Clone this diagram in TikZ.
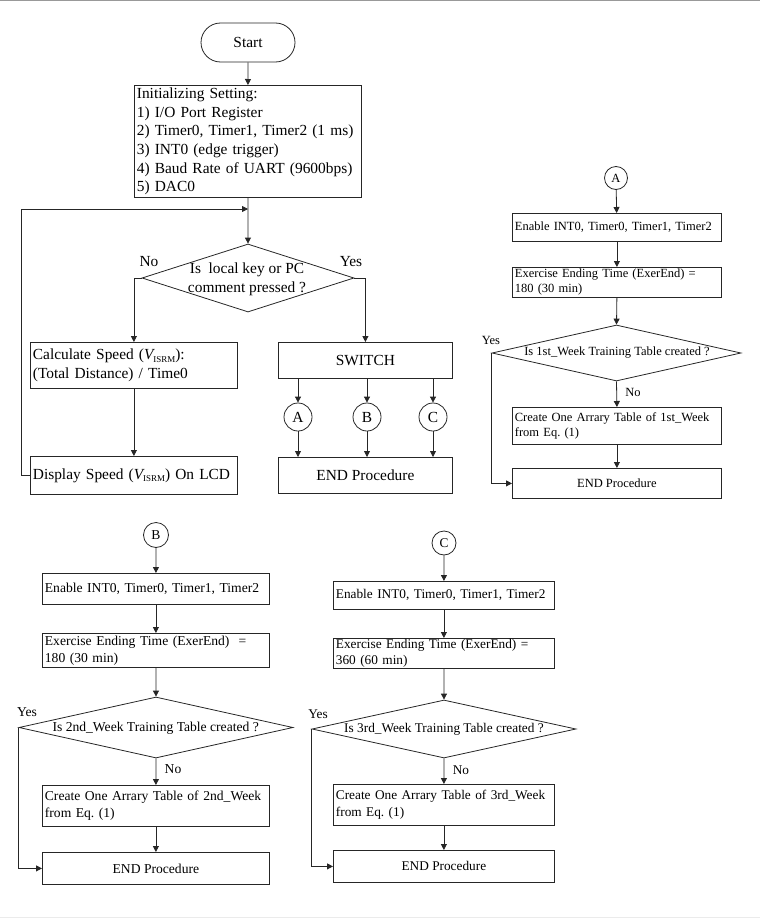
\documentclass[tikz,border=0pt]{standalone}
\usepackage{fontspec}
\usepackage{graphicx}
\setmainfont{Liberation Serif}
\usetikzlibrary{arrows.meta,shapes.geometric,shapes.misc}
\newcommand{\Visrm}{{\itshape V}\raisebox{-0.35ex}{\scalebox{0.58}{ISRM}}}
\frenchspacing
\begin{document}
\begin{tikzpicture}[x=1pt,y=-1pt,
  ln/.style={draw=black!85, line width=0.8pt},
  arr/.style={ln, -{Triangle[length=6pt,width=6pt]}},
  fL/.style={font=\fontsize{15.4}{18.7}\selectfont},
  fA/.style={font=\fontsize{12.5}{15}\selectfont},
  fB/.style={font=\fontsize{13.6}{17}\selectfont},
  fC/.style={font=\fontsize{13.3}{16.5}\selectfont},
  bx/.style={ln, rectangle, inner xsep=2.5pt, inner ysep=0pt, align=left, anchor=north west},
  cbx/.style={ln, rectangle, inner sep=0pt, align=center, anchor=north west},
  conn/.style={ln, circle, inner sep=0pt},
  dia/.style={ln, diamond, inner sep=0pt},
  lab/.style={inner sep=0pt}
]
\useasboundingbox (0,0) rectangle (760,918);
\draw[black!40, line width=1pt] (0,0.5) -- (760,0.5);
\draw[black!8, line width=1pt] (0,917) -- (760,917);

% ---------------- main flow ----------------
\node[ln, rounded rectangle, minimum width=94, minimum height=39, inner sep=0pt, fL] (start) at (248,42.5) {Start};
\node[bx, fL, minimum width=227, minimum height=112, text width=222] (init) at (134,85)
 {Initializing Setting:\\
  1) I/O Port Register\\
  2) Timer0, Timer1, Timer2 (1 ms)\\
  3) INT0 (edge trigger)\\
  4) Baud Rate of UART (9600bps)\\
  5) DAC0};
\node[dia, minimum width=212, minimum height=68] (dec) at (248,278) {};
\node[fL, lab, align=center] (decT) at (247,279) {Is\ \ local key or PC\\comment pressed ?};
\node[fL, lab] (no1) at (149,262) {No};
\node[fL, lab] (yes1) at (351,262) {Yes};
\node[bx, fL, minimum width=207, minimum height=46, text width=202] (calc) at (30,342)
 {Calculate~Speed~(\Visrm):\\(Total Distance) / Time0};
\node[bx, fL, minimum width=207, minimum height=38, text width=202] (disp) at (30,456)
 {Display~Speed~(\Visrm)~On~LCD};
\node[cbx, fL, minimum width=174, minimum height=36] (sw) at (278,342) {SWITCH};
\node[conn, fL, minimum size=28] (ca) at (298,417) {A};
\node[conn, fL, minimum size=28] (cb) at (367,417) {B};
\node[conn, fL, minimum size=28] (cc) at (433,417) {C};
\node[cbx, fL, minimum width=174, minimum height=36] (endM) at (278,457) {END Procedure};
\coordinate (join) at (248,209);
\coordinate (loopc) at (21,209);

\draw[arr] (start) -- (init);
\draw[arr] (init) -- (dec);
\draw[arr] (dec.west) -| (calc.north);
\draw[arr] (dec.east) -| (sw.north);
\draw[arr] (calc) -- (disp);
\draw[arr] (disp.west) -| (loopc) -- (join);
\foreach \c in {ca,cb,cc}{
  \draw[arr] (\c |- sw.south) -- (\c.north);
  \draw[arr] (\c.south) -- (\c |- endM.north);
}

% ---------------- A ----------------
\node[conn, fA, minimum size=23] (ra) at (616,178) {A};
\node[bx, fA, minimum width=209, minimum height=28, text width=204] (enA) at (512,213) {Enable INT0, Timer0, Timer1, Timer2};
\node[bx, fA, minimum width=209, minimum height=30, text width=204] (exA) at (512,267) {Exercise Ending Time (ExerEnd) =\\180 (30 min)};
\node[dia, minimum width=249, minimum height=56] (decA) at (616.5,353) {};
\node[fA, lab] (decAT) at (617,353) {Is 1st\_Week Training Table created ?};
\node[bx, fA, minimum width=209, minimum height=37, text width=204] (crA) at (512,407) {Create One Arrary Table of 1st\_Week\\from Eq. (1)};
\node[cbx, fA, minimum width=209, minimum height=30] (endA) at (512,468) {END Procedure};
\node[fA, lab] (yesA) at (491,340) {Yes};
\node[fA, lab] (noA) at (633,392) {No};
\draw[arr] (ra) -- (enA);
\draw[arr] (enA) -- (exA);
\draw[arr] (exA.south) -- (decA.north);
\draw[arr] (decA.south) -- (crA.north);
\draw[arr] (crA) -- (endA);
\draw[arr] (decA.west) |- (endA.west);

% ---------------- B ----------------
\node[conn, fB, minimum size=25] (rb) at (156,535) {B};
\node[bx, fB, minimum width=227, minimum height=31, text width=222] (enB) at (42,573) {Enable INT0, Timer0, Timer1, Timer2};
\node[bx, fB, minimum width=227, minimum height=34, text width=222] (exB) at (42,633) {Exercise Ending Time (ExerEnd)\ \ =\\180 (30 min)};
\node[dia, minimum width=274, minimum height=61] (decB) at (156,727.5) {};
\node[fB, lab] (decBT) at (155.7,728) {Is 2nd\_Week Training Table created ?};
\node[bx, fB, minimum width=227, minimum height=41, text width=222] (crB) at (42,785) {Create One Arrary Table of 2nd\_Week\\from Eq. (1)};
\node[cbx, fB, minimum width=227, minimum height=32] (endB) at (42,852) {END Procedure};
\node[fB, lab] (yesB) at (27,712) {Yes};
\node[fB, lab] (noB) at (173,769) {No};
\draw[arr] (rb) -- (enB);
\draw[arr] (enB) -- (exB);
\draw[arr] (exB.south) -- (decB.north);
\draw[arr] (decB.south) -- (crB.north);
\draw[arr] (crB) -- (endB);
\draw[arr] (decB.west) |- (endB.west);

% ---------------- C ----------------
\node[conn, fC, minimum size=24] (rc) at (444,543) {C};
\node[bx, fC, minimum width=221, minimum height=28, text width=216] (enC) at (333,581) {Enable INT0, Timer0, Timer1, Timer2};
\node[bx, fC, minimum width=221, minimum height=30, text width=216] (exC) at (333,638) {Exercise Ending Time (ExerEnd) =\\360 (60 min)};
\node[dia, minimum width=264, minimum height=58] (decC) at (444,729) {};
\node[fC, lab] (decCT) at (444,729) {Is 3rd\_Week Training Table created ?};
\node[bx, fC, minimum width=221, minimum height=41, text width=216] (crC) at (333,784) {Create One Arrary Table of 3rd\_Week\\from Eq. (1)};
\node[cbx, fC, minimum width=221, minimum height=32] (endC) at (333,850) {END Procedure};
\node[fC, lab] (yesC) at (318,714) {Yes};
\node[fC, lab] (noC) at (461,770) {No};
\draw[arr] (rc) -- (enC);
\draw[arr] (enC) -- (exC);
\draw[arr] (exC.south) -- (decC.north);
\draw[arr] (decC.south) -- (crC.north);
\draw[arr] (crC) -- (endC);
\draw[arr] (decC.west) |- (endC.west);
\end{tikzpicture}
\end{document}
